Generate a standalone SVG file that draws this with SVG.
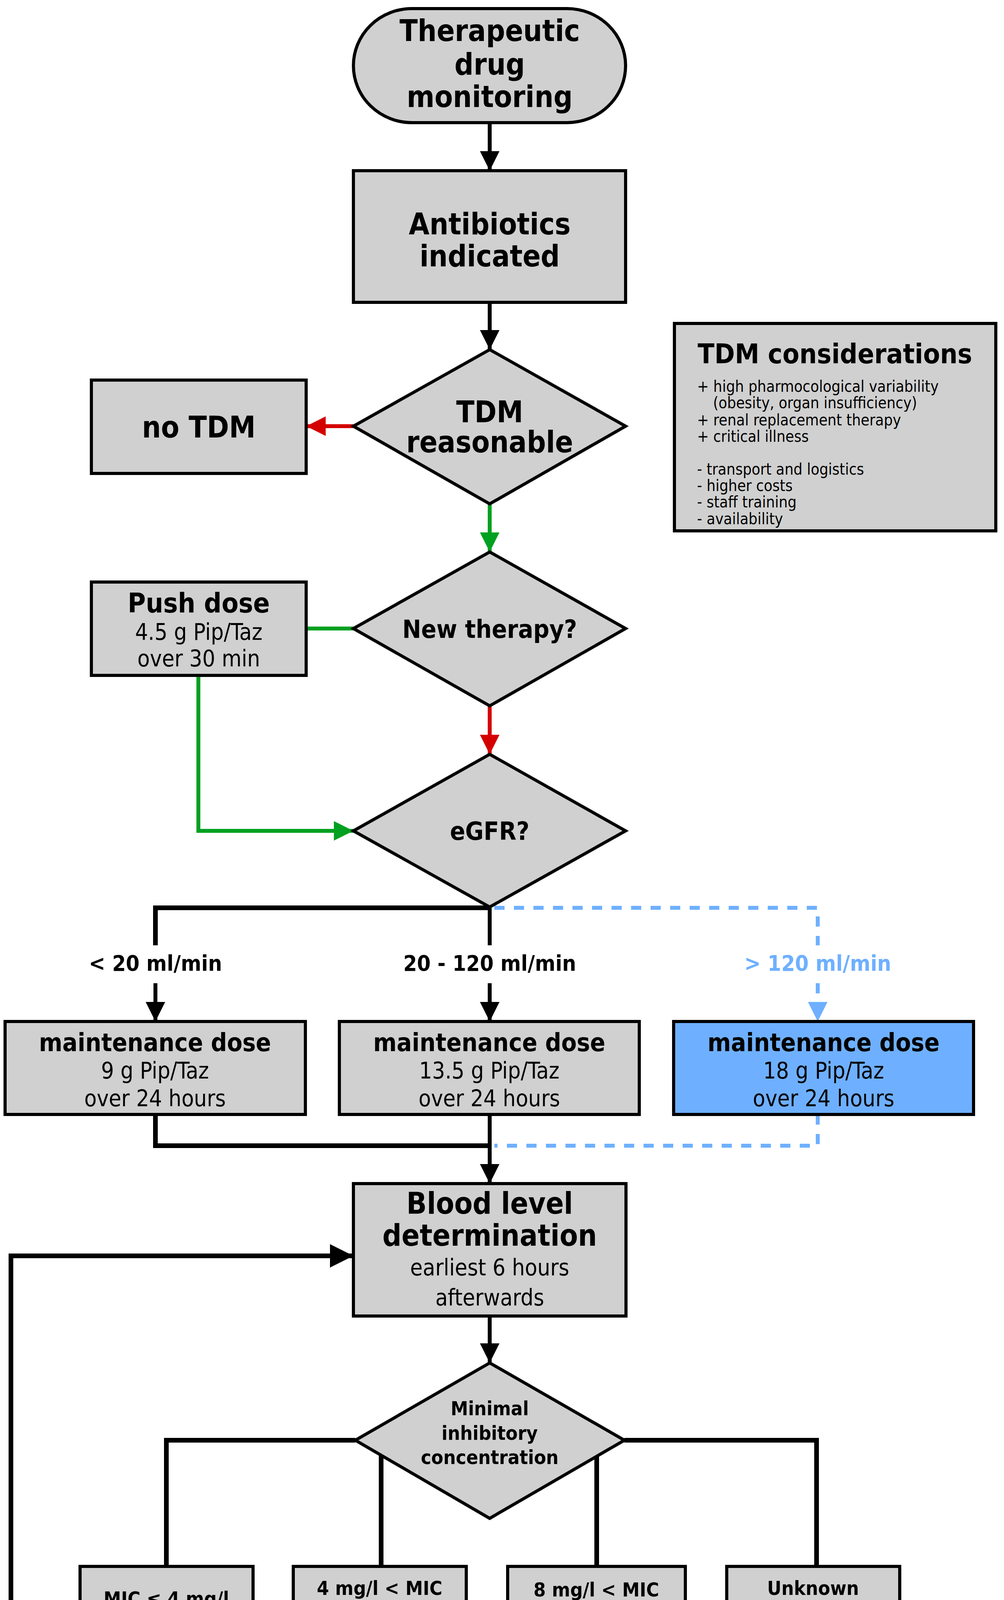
<svg xmlns="http://www.w3.org/2000/svg" width="2571" height="5827" viewBox="0 0 2571 5827">
<style>
.n{fill:#d0d0d0;stroke:#000;stroke-width:8}
.b{fill:#6eb0ff;stroke:#000;stroke-width:8}
text{font-family:"DejaVu Sans Condensed","DejaVu Sans","Liberation Sans",sans-serif;font-stretch:condensed;text-anchor:middle;fill:#000}
.t{font-size:76px;font-weight:bold}
.m{font-size:64px;font-weight:bold}
.s{font-size:58px}
.c{font-size:50px;font-weight:bold}
.l{font-size:40px;text-anchor:start}
.k{stroke:#000;stroke-width:10;fill:none}
.r{stroke:#d40000;stroke-width:10;fill:none}
.g{stroke:#00a020;stroke-width:10;fill:none}
.d{stroke:#6eb0ff;stroke-width:10;fill:none;stroke-dasharray:26 24}
</style>
<defs>
<marker id="ak" viewBox="0 0 10 10" refX="10" refY="5" markerWidth="5" markerHeight="5" orient="auto" markerUnits="strokeWidth"><path d="M0,0L10,5L0,10z" fill="#000"/></marker>
<marker id="ar" viewBox="0 0 10 10" refX="10" refY="5" markerWidth="5" markerHeight="5" orient="auto" markerUnits="strokeWidth"><path d="M0,0L10,5L0,10z" fill="#d40000"/></marker>
<marker id="ag" viewBox="0 0 10 10" refX="10" refY="5" markerWidth="5" markerHeight="5" orient="auto" markerUnits="strokeWidth"><path d="M0,0L10,5L0,10z" fill="#00a020"/></marker>
<marker id="ab" viewBox="0 0 10 10" refX="10" refY="5" markerWidth="5" markerHeight="5" orient="auto" markerUnits="strokeWidth"><path d="M0,0L10,5L0,10z" fill="#6eb0ff"/></marker>
</defs>
<rect width="2571" height="5827" fill="#fff"/>
<g id="connectors">
<path class="k" d="M1254,314V437" marker-end="url(#ak)"/>
<path class="k" d="M1254,774V895" marker-end="url(#ak)"/>
<path class="r" d="M905,1091H784" marker-end="url(#ar)"/>
<path class="g" d="M1254,1290V1413" marker-end="url(#ag)"/>
<path class="g" d="M905,1609H784"/>
<path class="g" d="M508,1729V2127H905" marker-end="url(#ag)"/>
<path class="r" d="M1254,1807V1931" marker-end="url(#ar)"/>
<path class="k" d="M1254,2324H398V2420" style="stroke-width:12"/>
<path class="k" d="M398,2517V2615" marker-end="url(#ak)"/>
<path class="k" d="M1254,2324V2420"/>
<path class="k" d="M1254,2517V2615" marker-end="url(#ak)"/>
<path class="d" d="M1266,2324H2094V2420"/>
<path class="d" d="M2094,2517V2615" marker-end="url(#ab)"/>
<path class="k" d="M398,2853V2933H1254" style="stroke-width:12"/>
<path class="d" d="M2094,2853V2933H1266"/>
<path class="k" d="M1254,2853V3030" marker-end="url(#ak)"/>
<path class="k" d="M1254,3369V3489" marker-end="url(#ak)"/>
<path class="k" d="M910,3687H426V4010M976,3687V4010" style="stroke-width:12"/>
<path class="k" d="M1599,3687H2091V4010M1528,3687V4010" style="stroke-width:12"/>
<path class="k" d="M426,4179V4465M976,4179V4465M1528,4344V4465M2091,4179V4465"/>
<path class="k" d="M426,4605V4727" marker-end="url(#ak)"/>
<path class="k" d="M976,4605V4727" marker-end="url(#ak)"/>
<path class="k" d="M1528,4605V4727" marker-end="url(#ak)"/>
<path class="k" d="M2091,4605V4727" marker-end="url(#ak)"/>
<path class="k" d="M1254,4605V5022" marker-end="url(#ak)"/>
<path class="r" d="M910,5218H648" marker-end="url(#ar)"/>
<path class="g" d="M1254,5415V5537" marker-end="url(#ag)"/>
<path class="k" d="M205,5218H28V3215H905" marker-end="url(#ak)" style="stroke-width:12"/>
</g>
<g id="start"><rect class="n" x="905" y="22" width="697" height="292" rx="150" ry="146"/><text class="t" x="1254" y="105">Therapeutic</text><text class="t" x="1254" y="191">drug</text><text class="t" x="1254" y="274">monitoring</text></g>
<g id="antibiotics"><rect class="n" x="905" y="437" width="697" height="337"/><text class="t" x="1254" y="600">Antibiotics</text><text class="t" x="1254" y="682">indicated</text></g>
<g id="tdmreasonable"><path class="n" d="M1254,895L1602,1091L1254,1290L905,1091z"/><text class="t" x="1254" y="1081">TDM</text><text class="t" x="1254" y="1158">reasonable</text></g>
<g id="notdm"><rect class="n" x="234" y="973" width="550" height="239"/><text class="t" x="509" y="1120">no TDM</text></g>
<g id="considerations"><rect class="n" x="1727" y="828" width="823" height="531"/><text class="t" x="2138" y="930" style="font-size:70px">TDM considerations</text>
<text class="l" x="1785" y="1003">+ high pharmocological variability</text><text class="l" x="1826" y="1045">(obesity, organ insufficiency)</text><text class="l" x="1785" y="1089">+ renal replacement therapy</text><text class="l" x="1785" y="1131">+ critical illness</text><text class="l" x="1785" y="1215">- transport and logistics</text><text class="l" x="1785" y="1257">- higher costs</text><text class="l" x="1785" y="1299">- staff training</text><text class="l" x="1785" y="1342">- availability</text></g>
<g id="newtherapy"><path class="n" d="M1254,1413L1602,1609L1254,1807L905,1609z"/><text class="m" x="1254" y="1633">New therapy?</text></g>
<g id="pushdose"><rect class="n" x="234" y="1490" width="550" height="239"/><text class="m" x="509" y="1568" style="font-size:70px">Push dose</text><text class="s" x="509" y="1638">4.5 g Pip/Taz</text><text class="s" x="509" y="1706">over 30 min</text></g>
<g id="egfr"><path class="n" d="M1254,1931L1602,2127L1254,2322L905,2127z"/><text class="m" x="1254" y="2150">eGFR?</text></g>
<g id="labels"><text x="398" y="2485" style="font-weight:bold;font-size:56px">&lt; 20 ml/min</text><text x="1254" y="2485" style="font-weight:bold;font-size:56px">20 - 120 ml/min</text><text x="2094" y="2485" style="font-weight:bold;font-size:56px;fill:#6eb0ff">&gt; 120 ml/min</text></g>
<g id="md1"><rect class="n" x="13" y="2615" width="769" height="238"/><text class="m" x="397" y="2691">maintenance dose</text><text class="s" x="397" y="2761">9 g Pip/Taz</text><text class="s" x="397" y="2832">over 24 hours</text></g>
<g id="md2"><rect class="n" x="869" y="2615" width="768" height="238"/><text class="m" x="1253" y="2691">maintenance dose</text><text class="s" x="1253" y="2761">13.5 g Pip/Taz</text><text class="s" x="1253" y="2832">over 24 hours</text></g>
<g id="md3"><rect class="b" x="1725" y="2615" width="768" height="238"/><text class="m" x="2109" y="2691">maintenance dose</text><text class="s" x="2109" y="2761">18 g Pip/Taz</text><text class="s" x="2109" y="2832">over 24 hours</text></g>
<g id="blood"><rect class="n" x="905" y="3030" width="698" height="339"/><text class="t" x="1254" y="3107">Blood level</text><text class="t" x="1254" y="3189">determination</text><text class="s" x="1254" y="3265">earliest 6 hours</text><text class="s" x="1254" y="3342">afterwards</text></g>
<g id="mic"><path class="n" d="M1254,3489L1599,3687L1254,3887L910,3687z"/><text class="c" x="1254" y="3623">Minimal</text><text class="c" x="1254" y="3686">inhibitory</text><text class="c" x="1254" y="3748">concentration</text></g>
<g id="mic1"><rect class="n" x="205" y="4010" width="443" height="169"/><text class="c" x="426" y="4110">MIC ≤ 4 mg/l</text></g>
<g id="mic2"><rect class="n" x="751" y="4010" width="443" height="169"/><text class="c" x="972" y="4083">4 mg/l &lt; MIC</text><text class="c" x="972" y="4141">≤ 8 mg/l</text></g>
<g id="mic3"><rect class="n" x="1300" y="4010" width="455" height="334"/><text class="c" x="1527" y="4087">8 mg/l &lt; MIC</text><text class="c" x="1527" y="4145">≤ 16 mg/l</text><text class="c" x="1527" y="4204">or</text><text class="c" x="1527" y="4262">Pseudomonas</text><text class="c" x="1527" y="4320">spp.</text></g>
<g id="mic4"><rect class="n" x="1861" y="4010" width="443" height="169"/><text class="c" x="2082" y="4083">Unknown</text><text class="c" x="2082" y="4141">pathogen</text></g>
<g id="target"><rect class="n" x="205" y="4465" width="2099" height="140"/><text class="t" x="1270" y="4561">Target concentration</text></g>
<g id="v20"><rect class="n" x="205" y="4727" width="443" height="171"/><text class="m" x="426" y="4833" style="font-size:60px">20 mg/l</text></g>
<g id="v40"><rect class="n" x="751" y="4727" width="443" height="171"/><text class="m" x="972" y="4833" style="font-size:60px">40 mg/l</text></g>
<g id="v80"><rect class="n" x="1300" y="4727" width="1016" height="171"/><text class="m" x="1800" y="4833" style="font-size:60px">80 mg/l</text></g>
<g id="deviation"><path class="n" d="M1254,5022L1602,5218L1254,5415L910,5218z"/><text class="m" x="1254" y="5203" style="font-size:60px">Deviation</text><text class="m" x="1254" y="5271" style="font-size:60px">&lt; 10 %?</text></g>
<g id="dosage"><rect class="n" x="205" y="5083" width="443" height="257"/><text class="m" x="426" y="5196" style="font-size:60px">Dosage</text><text class="m" x="426" y="5261" style="font-size:60px">adjustment</text></g>
<g id="proceed"><rect class="n" x="1025" y="5537" width="463" height="270"/><text class="m" x="1256" y="5613" style="font-size:60px">Proceed</text><text class="m" x="1256" y="5685" style="font-size:60px">with</text><text class="m" x="1256" y="5750" style="font-size:60px">therapy</text></g>
</svg>
